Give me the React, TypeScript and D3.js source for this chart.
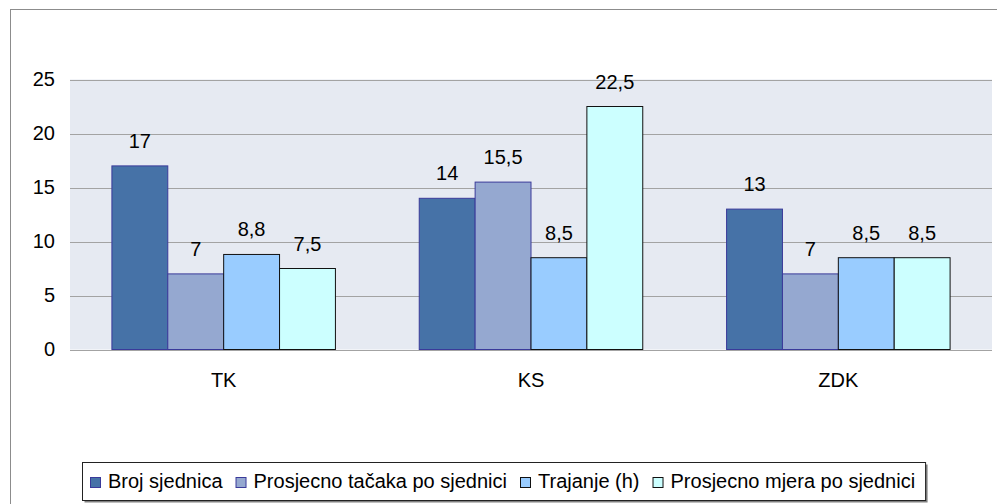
import React, { useEffect, useRef } from "react";
import * as d3 from "d3";

const categories = ["TK", "KS", "ZDK"];
const seriesNames = [
  "Broj sjednica",
  "Prosjecno tačaka po sjednici",
  "Trajanje (h)",
  "Prosjecno mjera po sjednici",
];
const brojSjednica = [17, 14, 13];
const prosjecnoTacaka = [7, 15.5, 7];
const trajanje = [8.8, 8.5, 8.5];
const prosjecnoMjera = [7.5, 22.5, 8.5];
const yTicks = [0, 5, 10, 15, 20, 25];

const fills = ["#4672A7", "#95A8D0", "#99CCFF", "#CCFFFF"];
const strokes = ["#3A3A9A", "#3A3A9A", "#111111", "#111111"];

const FONT = "'Liberation Sans', Arial, sans-serif";

export default function App() {
  const ref = useRef<SVGSVGElement | null>(null);

  useEffect(() => {
    const svg = d3.select(ref.current);
    svg.selectAll("*").remove();
    const values = [brojSjednica, prosjecnoTacaka, trajanje, prosjecnoMjera];

    const left = 70, right = 992, top = 79.5, bottom = 349.5;

    // outer frame
    svg.append("rect").attr("x", 10.5).attr("y", 9.5).attr("width", 1000).attr("height", 600)
      .attr("fill", "#fff").attr("stroke", "#8c8c8c").attr("stroke-width", 1);

    const y = d3.scaleLinear().domain([0, 25]).range([bottom, top]);
    const x0 = d3.scaleBand<string>().domain(categories).range([left, right]).padding(0);
    const bw = x0.bandwidth() / 5.5;
    const x1 = d3.scaleBand<number>().domain([0, 1, 2, 3])
      .range([0.75 * bw, x0.bandwidth() - 0.75 * bw]).padding(0);

    svg.append("rect").attr("x", left).attr("y", top).attr("width", right - left).attr("height", bottom - top)
      .attr("fill", "#E6EAF2");

    svg.append("g").selectAll("line").data(yTicks).join("line")
      .attr("x1", left).attr("x2", right)
      .attr("y1", (d) => Math.round(y(d)) + 0.5).attr("y2", (d) => Math.round(y(d)) + 0.5)
      .attr("stroke", "#A3A3A3").attr("stroke-width", 1);

    svg.append("g").selectAll("text").data(yTicks).join("text")
      .attr("x", 55).attr("y", (d) => y(d) + 6).attr("text-anchor", "end")
      .attr("font-family", FONT).attr("font-size", 20).attr("fill", "#000")
      .text((d) => String(d));

    const fmt = (v: number) => String(v).replace(".", ",");

    categories.forEach((c, ci) => {
      const g = svg.append("g").attr("transform", `translate(${x0(c)},0)`);
      values.forEach((arr, si) => {
        const v = arr[ci];
        g.append("rect")
          .attr("x", x1(si)!).attr("y", y(v))
          .attr("width", x1.bandwidth()).attr("height", y(0) - y(v))
          .attr("fill", fills[si]).attr("stroke", strokes[si]).attr("stroke-width", 1);
        g.append("text")
          .attr("x", x1(si)! + x1.bandwidth() / 2).attr("y", y(v) - 18)
          .attr("text-anchor", "middle").attr("font-family", FONT).attr("font-size", 20)
          .attr("fill", "#000").text(fmt(v));
      });
      svg.append("text").attr("x", x0(c)! + x0.bandwidth() / 2).attr("y", 387)
        .attr("text-anchor", "middle").attr("font-family", FONT).attr("font-size", 20)
        .attr("fill", "#000").text(c);
    });

    // legend
    const lg = svg.append("g");
    const shadow = lg.append("rect").attr("fill", "#808080");
    const box = lg.append("rect").attr("fill", "#fff").attr("stroke", "#222").attr("stroke-width", 1);
    let cx = 90;
    seriesNames.forEach((name, si) => {
      lg.append("rect").attr("x", cx + 0.5).attr("y", 477.5).attr("width", 10).attr("height", 10)
        .attr("fill", fills[si]).attr("stroke", strokes[si]).attr("stroke-width", 1);
      const t = lg.append("text").attr("x", cx + 18).attr("y", 488)
        .attr("font-family", FONT).attr("font-size", 20).attr("fill", "#000").text(name);
      const w = (t.node() as SVGTextElement).getComputedTextLength();
      cx = cx + 18 + w + 13;
    });
    const bx = 82.5, by = 462.5, bwid = cx - 13 + 10 - 82, bh = 38;
    box.attr("x", bx).attr("y", by).attr("width", bwid).attr("height", bh);
    shadow.attr("x", bx + 2).attr("y", by + 2).attr("width", bwid).attr("height", bh);
  }, []);

  return (
    <svg ref={ref} width={997} height={504}
      style={{ position: "absolute", left: 0, top: 0, display: "block" }} />
  );
}
